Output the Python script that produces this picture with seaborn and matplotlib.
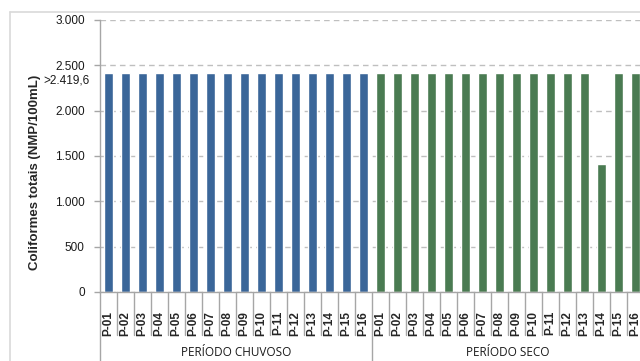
import numpy as np
import pandas as pd
import matplotlib
matplotlib.use("Agg")
import matplotlib.pyplot as plt
import matplotlib.transforms as mtransforms
from matplotlib.ticker import FuncFormatter
import seaborn as sns

# data
points = ["P-01", "P-02", "P-03", "P-04", "P-05", "P-06", "P-07", "P-08",
          "P-09", "P-10", "P-11", "P-12", "P-13", "P-14", "P-15", "P-16"]
chuvoso = [2419.6, 2419.6, 2419.6, 2419.6, 2419.6, 2419.6, 2419.6, 2419.6,
           2419.6, 2419.6, 2419.6, 2419.6, 2419.6, 2419.6, 2419.6, 2419.6]
seco = [2419.6, 2419.6, 2419.6, 2419.6, 2419.6, 2419.6, 2419.6, 2419.6,
        2419.6, 2419.6, 2419.6, 2419.6, 2419.6, 1410.0, 2419.6, 2419.6]
periods = ["PERÍODO CHUVOSO", "PERÍODO SECO"]
colors = ["#3A6699", "#4A7B52"]

df = pd.DataFrame({
    "key": [f"C {p}" for p in points] + [f"S {p}" for p in points],
    "label": points + points,
    "valor": chuvoso + seco,
    "periodo": [periods[0]] * len(points) + [periods[1]] * len(points),
})

sns.set_style("white")
plt.rcParams["font.family"] = ["Liberation Sans", "DejaVu Sans"]

fig = plt.figure(figsize=(6.4, 3.61), dpi=100)
ax = fig.add_axes([100 / 640, 69 / 361, 544 / 640, 272 / 361])

sns.barplot(data=df, x="key", y="valor", hue="periodo", palette=colors,
            dodge=False, width=0.52, legend=False, ax=ax, saturation=1)

ax.set_xlim(-0.5, len(df) - 0.5)
ax.set_ylim(0, 3000)
ax.set_yticks(np.arange(0, 3001, 500))
ax.yaxis.set_major_formatter(FuncFormatter(lambda v, _: f"{int(v):,}".replace(",", ".")))
ax.yaxis.grid(True, linestyle=(0, (4, 3)), color="#BFBFBF", linewidth=1)
ax.set_axisbelow(True)

for s in ["top", "right"]:
    ax.spines[s].set_visible(False)
for s in ["left", "bottom"]:
    ax.spines[s].set_color("#A6A6A6")
    ax.spines[s].set_linewidth(1)

ax.tick_params(axis="y", left=True, length=4, width=1, color="#A6A6A6",
               labelsize=8.5, pad=7, labelcolor="#1a1a1a")
ax.set_xticks(range(len(df)))
ax.set_xticklabels(df["label"], rotation=90, fontsize=8.5, fontweight="bold", va="top")
ax.tick_params(axis="x", bottom=False, pad=10)
ax.set_xlabel("")
ax.set_ylabel("Coliformes totais (NMP/100mL)", fontsize=9.5, fontweight="bold")
ax.yaxis.set_label_coords(-0.108, 0.44)

# extra label for the detection limit
trans = mtransforms.blended_transform_factory(ax.transAxes, ax.transData)
ax.annotate(">2.419,6", xy=(0, 2419.6), xycoords=trans, xytext=(-7.5, -6),
            textcoords="offset points", ha="right", va="center",
            fontsize=8.5, color="#1a1a1a", annotation_clip=False)

# category separators below the axis
bt = mtransforms.blended_transform_factory(ax.transData, ax.transAxes)
n = len(points)
for i in range(1, len(df)):
    if i % n == 0:
        continue
    ax.plot([i - 0.5, i - 0.5], [0, -0.158], transform=bt,
            color="#A6A6A6", lw=1, clip_on=False)
for g in range(len(periods) + 1):
    x = g * n - 0.5
    ax.plot([x, x], [0, -0.26], transform=bt, color="#A6A6A6", lw=1, clip_on=False)
    if g < len(periods):
        ax.text(g * n + (n - 1) / 2, -0.221, periods[g], transform=bt,
                ha="center", va="center", fontsize=8.5, family="Open Sans",
                fontweight="medium", color="#1a1a1a")

# chart border
fig.add_artist(plt.Line2D([10 / 640, 1], [1 - 12 / 361] * 2, color="#D9D9D9", lw=1.2))
fig.add_artist(plt.Line2D([10 / 640] * 2, [0, 1 - 12 / 361], color="#D9D9D9", lw=1.2))

fig.savefig("out.png", dpi=100)
